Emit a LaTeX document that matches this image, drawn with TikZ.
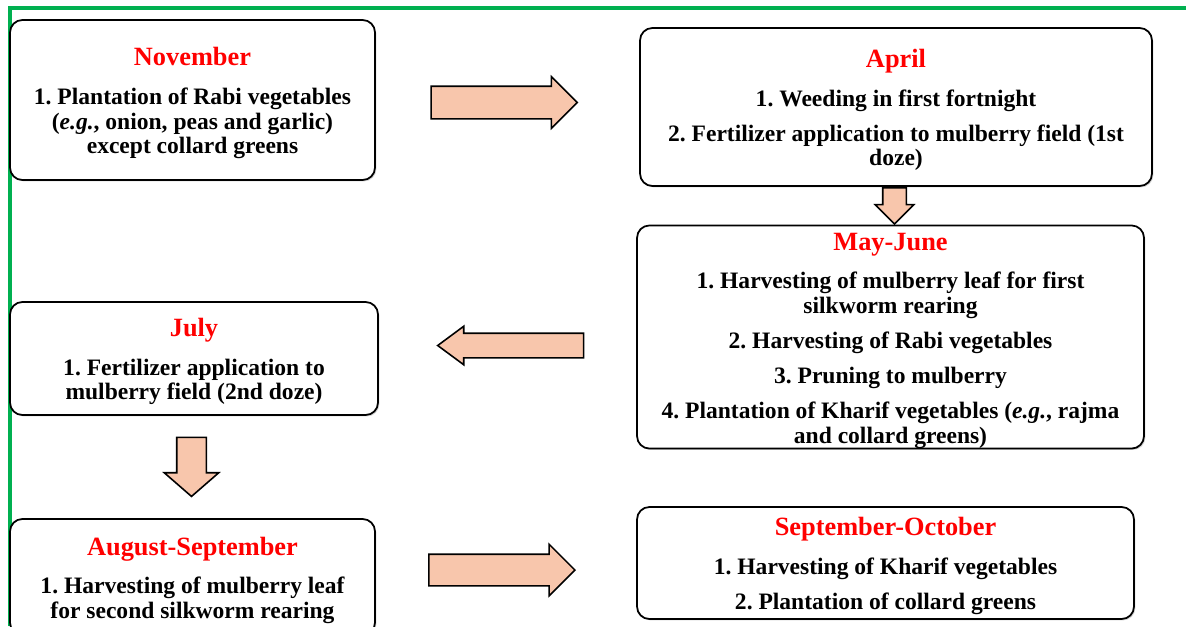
\documentclass[tikz,border=0pt]{standalone}
\usepackage{fontspec}
\setmainfont{Liberation Serif}
\usetikzlibrary{shapes.arrows,shadows}
\definecolor{peach}{RGB}{248,198,172}
\definecolor{framegreen}{RGB}{0,176,80}
\newcommand{\mhead}[1]{{\fontsize{15}{16}\selectfont\color{red}\rule{0pt}{14pt}#1}}
\frenchspacing
\tikzset{
  monthbox/.style={draw, rounded corners=7pt, line width=1pt, fill=white, align=center, inner sep=0pt,
    drop shadow={opacity=0.35, shadow xshift=0.8pt, shadow yshift=-0.8pt},
    font=\fontsize{13.4}{14}\selectfont\bfseries},
  blockarrow/.style={single arrow, draw, line width=0.9pt, fill=peach, inner sep=0pt,
    single arrow head indent=0pt},
  frameline/.style={framegreen, line width=2.2pt}
}
\begin{document}
\begin{tikzpicture}[x=0.02cm, y=-0.02cm]
  \useasboundingbox (0,0) rectangle (1186,626);
  \clip (0,0) rectangle (1186,626);

  % frame
  \coordinate (fc) at (10,8);
  \coordinate (fr) at (1186,8);
  \coordinate (fb) at (10,626);
  \draw[frameline] (fb) -- (fc) -- (fr);

  % months
  \node[monthbox, minimum width=7.3cm, minimum height=3.2cm] (nov) at (192.5,100)
    {\mhead{November}\\[8pt]
     1. Plantation of Rabi vegetables\\
     (\textit{e.g.}, onion, peas and garlic)\\
     except collard greens};
  \node[monthbox, minimum width=10.24cm, minimum height=3.16cm] (apr) at (896,107)
    {\mhead{April}\\[8pt]
     1. Weeding in first fortnight\\[6pt]
     2. Fertilizer application to mulberry field (1st\\
     doze)};
  \node[monthbox, minimum width=10.14cm, minimum height=4.32cm] (may) at (890.5,337)
    {\mhead{May-June}\\[8pt]
     1. Harvesting of mulberry leaf for first\\
     silkworm rearing\\[6pt]
     2. Harvesting of Rabi vegetables\\[6pt]
     3. Pruning to mulberry\\[6pt]
     4. Plantation of Kharif vegetables (\textit{e.g.}, rajma\\
     and collard greens)};
  \node[monthbox, minimum width=7.36cm, minimum height=2.26cm] (jul) at (194,358.5)
    {\mhead{July}\\[8pt]
     1. Fertilizer application to\\
     mulberry field (2nd doze)};
  \node[monthbox, minimum width=7.3cm, minimum height=2.32cm] (aug) at (192.5,577)
    {\mhead{August-September}\\[8pt]
     1. Harvesting of mulberry leaf\\
     for second silkworm rearing};
  \node[monthbox, minimum width=9.94cm, minimum height=2.24cm] (sep) at (885.5,563)
    {\mhead{September-October}\\[8pt]
     1. Harvesting of Kharif vegetables\\[6pt]
     2. Plantation of collard greens};

  % arrows
  \node[blockarrow, minimum height=2.92cm, inner ysep=0.31cm, single arrow head extend=0.19cm,
    single arrow tip angle=90] (novapr) at (496,102.5) {};
  \node[blockarrow, minimum height=0.72cm, inner xsep=0.22cm, single arrow head extend=0.15cm,
    single arrow tip angle=90, shape border rotate=270] (aprmay) at (894.5,200) {};
  \node[blockarrow, minimum height=2.92cm, inner ysep=0.23cm, single arrow head extend=0.14cm,
    single arrow tip angle=73, shape border rotate=180] (mayjul) at (519,345.5) {};
  \node[blockarrow, minimum height=1.18cm, inner xsep=0.28cm, single arrow head extend=0.25cm,
    single arrow tip angle=98, shape border rotate=270] (julaug) at (191.5,460.5) {};
  \node[blockarrow, minimum height=2.92cm, inner ysep=0.30cm, single arrow head extend=0.20cm,
    single arrow tip angle=90] (augsep) at (494,570) {};
\end{tikzpicture}
\end{document}
